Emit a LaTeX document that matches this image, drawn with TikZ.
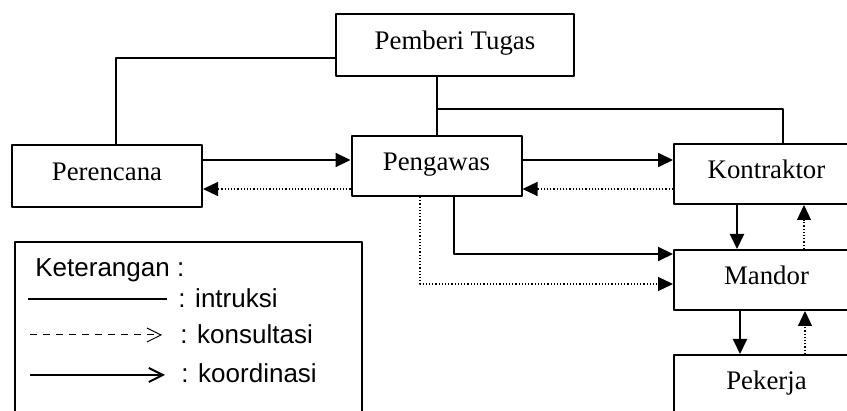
\documentclass[tikz,border=0pt]{standalone}
\usepackage{fontspec}
\setmainfont{Liberation Serif}
\newfontfamily\ketfont{Liberation Sans}
\usetikzlibrary{arrows.meta,calc}

\begin{document}
\begin{tikzpicture}[x=0.5pt,y=-0.5pt, line join=round,
    >={Triangle[length=7.5pt,width=7pt]},
    kotak/.style={draw,line width=1pt,font=\fontsize{13.4}{16}\selectfont,
      text height=.66em,text depth=.25em},
    kanan/.style={kotak,minimum width=185*\px,minimum height=60*\px},
    instr/.style={line width=1pt},
    koord/.style={line width=1pt,->},
    kons/.style={line width=.6pt,densely dotted,->},
    ket/.style={anchor=base west,inner sep=0pt,font=\ketfont\fontsize{13}{15}\selectfont}]
    \def\px{0.5pt}
    \useasboundingbox (0,0) rectangle (847,411);
    \clip (0,0) rectangle (847,411);
    % kotak
    \node[kotak,minimum width=238*\px,minimum height=62*\px] (pemberi) at (455,45) {Pemberi Tugas};
    \node[kotak,minimum width=190*\px,minimum height=62*\px] (perencana) at (107,176) {Perencana};
    \node[kotak,minimum width=170*\px,minimum height=60*\px] (pengawas) at (436.5,166) {Pengawas};
    \node[kanan] (kontraktor) at (766.5,174) {Kontraktor};
    \node[kanan] (mandor) at (766.5,280) {Mandor};
    \node[kanan] (pekerja) at (766.5,385) {Pekerja};
    % instruksi
    \draw[instr] ($(pemberi.west)+(0,13)$) -| ($(perencana.north)+(9,0)$);
    \draw[instr] (pemberi.south -| pengawas.north) -- (pengawas.north);
    \coordinate (cabang) at ($(pengawas.north)+(0,-26)$);
    \draw[instr] (cabang) -| ($(kontraktor.north)+(16,0)$);
    % koordinasi & konsultasi
    \draw[koord] (perencana.east |- 0,160) -- (pengawas.west |- 0,160);
    \draw[koord] (pengawas.east |- 0,160) -- (kontraktor.west |- 0,160);
    \draw[kons] (pengawas.west |- 0,189) -- (perencana.east |- 0,189);
    \draw[kons] (kontraktor.west |- 0,189) -- (pengawas.east |- 0,189);
    \draw[koord] (pengawas.south -| 454,0) |- (mandor.west |- 0,254);
    \draw[kons] (pengawas.south -| 420,0) |- (mandor.west |- 0,284);
    \draw[koord] (kontraktor.south -| 737,0) -- (mandor.north -| 737,0);
    \draw[kons] (mandor.north -| 804,0) -- (kontraktor.south -| 804,0);
    \draw[koord] (mandor.south -| 740,0) -- (pekerja.north -| 740,0);
    \draw[kons] (pekerja.north -| 805,0) -- (mandor.south -| 805,0);
    % keterangan
    \draw[line width=.8pt] (15,242) rectangle (362,430);
    \node[ket] (judul) at (35,277) {Keterangan :};
    \node[ket] (intruksi) at (178,308) {: intruksi};
    \node[ket] (konsultasi) at (180,344) {: konsultasi};
    \node[ket] (koordinasi) at (181,383) {: koordinasi};
    \draw[line width=.8pt] ($(intruksi.base west)+(-150,-9)$) -- ($(intruksi.base west)+(-11,-9)$);
    \draw[line width=.5pt,dash pattern=on 3.5pt off 3pt,-{Straight Barb[length=7pt,width=7pt]}]
      ($(konsultasi.base west)+(-150,-9)$) -- ($(konsultasi.base west)+(-18,-9)$);
    \draw[line width=1pt,-{Straight Barb[length=7pt,width=7pt]}]
      ($(koordinasi.base west)+(-151,-8)$) -- ($(koordinasi.base west)+(-16,-8)$);
\end{tikzpicture}
\end{document}
